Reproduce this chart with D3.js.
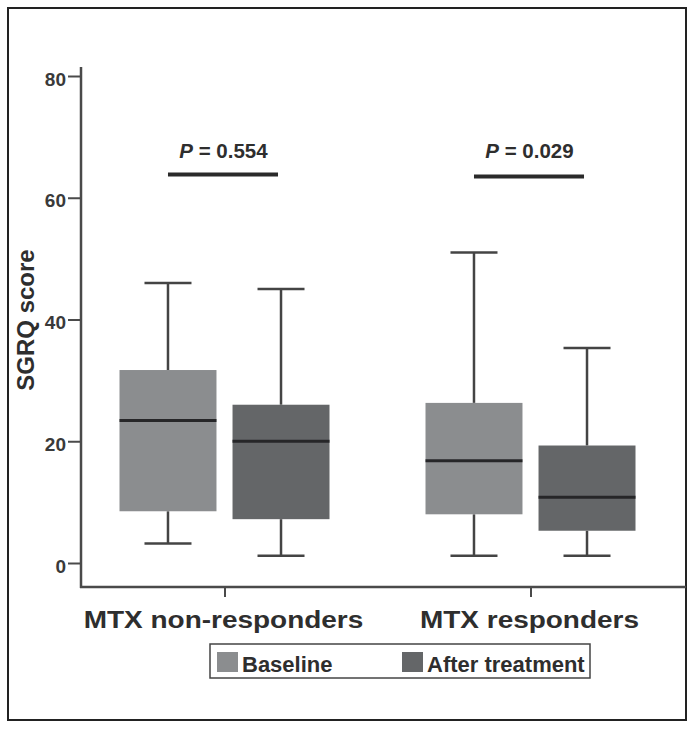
<!DOCTYPE html>
<html><head><meta charset="utf-8">
<script src="https://cdn.jsdelivr.net/npm/d3@7"></script>
<style>
body{margin:0;background:#fff;}
text{font-family:"Liberation Sans",Arial,Helvetica,sans-serif;}
</style></head>
<body><svg id="c" width="693" height="731"></svg>
<script>
const groups = ["MTX non-responders", "MTX responders"];
const series = ["Baseline", "After treatment"];
const colors = ["#8b8d8f", "#646668"];
// [min, q1, median, q3, max] per group, per series
const baselineStats = [[3.2, 8.5, 23.4, 31.7, 46.0], [1.2, 8.0, 16.8, 26.3, 51.0]];
const afterStats    = [[1.2, 7.2, 20.0, 26.0, 45.0], [1.2, 5.3, 10.8, 19.3, 35.3]];
const pLabels = ["0.554", "0.029"];
const pBarY = [63.8, 63.5];
const pTextY = [67.6, 67.6];
const yTicks = [0, 20, 40, 60, 80];

const svg = d3.select("#c");
// outer frame
svg.append("rect").attr("x", 8).attr("y", 8).attr("width", 678).attr("height", 712)
  .attr("fill", "none").attr("stroke", "#222").attr("stroke-width", 2);

const y = d3.scaleLinear().domain([0, 80]).range([563, 76]);
const x = d3.scalePoint().domain(groups).range([71.5, 683.5]).padding(0.5);
const xs = d3.scaleBand().domain(series).range([-105, 105]).paddingInner(0.142).paddingOuter(0);

const axisColor = "#4a4a4a";
// y axis
const ya = svg.append("g").attr("transform", "translate(81,0)")
  .call(d3.axisLeft(y).tickValues(yTicks).tickSize(13).tickPadding(2));
ya.select(".domain").remove();
ya.selectAll(".tick line").attr("stroke", axisColor).attr("stroke-width", 2);
ya.selectAll(".tick text").attr("font-size", 19).attr("font-weight", "bold").attr("fill", "#3a3a3a").attr("y", 3);
svg.append("line").attr("x1", 81).attr("x2", 81).attr("y1", 67).attr("y2", 588)
  .attr("stroke", axisColor).attr("stroke-width", 2.5);
// x axis
svg.append("line").attr("x1", 80).attr("x2", 686).attr("y1", 587).attr("y2", 587)
  .attr("stroke", axisColor).attr("stroke-width", 2.5);
const xa = svg.append("g").attr("transform", "translate(0,587)")
  .call(d3.axisBottom(x).tickSize(10).tickPadding(14));
xa.select(".domain").remove();
xa.selectAll(".tick line").attr("stroke", axisColor).attr("stroke-width", 2);
xa.selectAll(".tick text").attr("font-size", 23.5).attr("font-weight", "bold").attr("fill", "#2e2e2e")
  .attr("transform", "translate(-1.5,0) scale(1.19,1)");

// y title
svg.append("text").attr("transform", "translate(34,320) rotate(-90)")
  .attr("text-anchor", "middle").attr("font-size", 24).attr("font-weight", "bold")
  .attr("fill", "#2e2e2e").text("SGRQ score");

// boxes
const allStats = [baselineStats, afterStats];
const bw = xs.bandwidth();
const capHalf = 23.5;
groups.forEach((g, gi) => {
  series.forEach((s, si) => {
    const st = allStats[si][gi];
    const x0 = x(g) + xs(s);
    const cx = x0 + bw / 2;
    const gg = svg.append("g");
    const wc = "#444";
    gg.append("line").attr("x1", cx).attr("x2", cx).attr("y1", y(st[3])).attr("y2", y(st[4]))
      .attr("stroke", wc).attr("stroke-width", 2.5);
    gg.append("line").attr("x1", cx).attr("x2", cx).attr("y1", y(st[0])).attr("y2", y(st[1]))
      .attr("stroke", wc).attr("stroke-width", 2.5);
    gg.append("line").attr("x1", cx - capHalf).attr("x2", cx + capHalf).attr("y1", y(st[4])).attr("y2", y(st[4]))
      .attr("stroke", wc).attr("stroke-width", 2.5);
    gg.append("line").attr("x1", cx - capHalf).attr("x2", cx + capHalf).attr("y1", y(st[0])).attr("y2", y(st[0]))
      .attr("stroke", wc).attr("stroke-width", 2.5);
    gg.append("rect").attr("x", x0).attr("width", bw).attr("y", y(st[3])).attr("height", y(st[1]) - y(st[3]))
      .attr("fill", colors[si]);
    gg.append("line").attr("x1", x0).attr("x2", x0 + bw).attr("y1", y(st[2])).attr("y2", y(st[2]))
      .attr("stroke", "#262628").attr("stroke-width", 3);
  });
  // p bracket
  const c1 = x(g) + xs(series[0]) + bw / 2;
  const c2 = x(g) + xs(series[1]) + bw / 2;
  svg.append("line").attr("x1", c1).attr("x2", c2 - 3).attr("y1", y(pBarY[gi])).attr("y2", y(pBarY[gi]))
    .attr("stroke", "#2a2a2a").attr("stroke-width", 4);
  const t = svg.append("text").attr("x", (c1 + c2) / 2 - 1).attr("y", y(pTextY[gi]) + 7)
    .attr("text-anchor", "middle").attr("font-size", 20.5).attr("font-weight", "bold").attr("fill", "#2e2e2e");
  t.append("tspan").attr("font-style", "italic").text("P");
  t.append("tspan").text(" = " + pLabels[gi]);
});

// legend
const lg = svg.append("g");
lg.append("rect").attr("x", 210).attr("y", 644).attr("width", 380).attr("height", 34)
  .attr("fill", "#fff").attr("stroke", "#444").attr("stroke-width", 1.5);
const legX = [217, 402];
series.forEach((s, i) => {
  lg.append("rect").attr("x", legX[i]).attr("y", 652).attr("width", 21).attr("height", 20).attr("fill", colors[i]);
  lg.append("text").attr("x", legX[i] + 25).attr("y", 672).attr("font-size", 22).attr("font-weight", "bold")
    .attr("fill", "#2e2e2e").text(s);
});
</script></body></html>
